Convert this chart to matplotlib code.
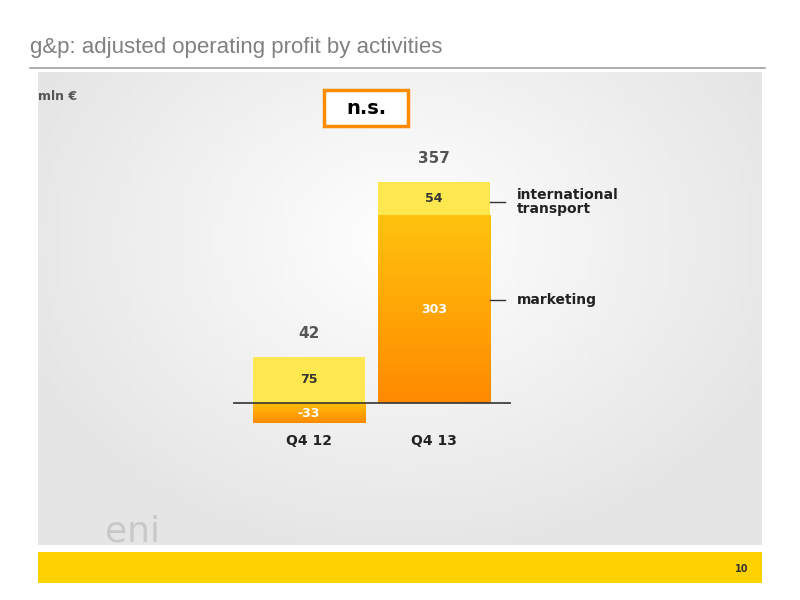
import matplotlib
matplotlib.use("Agg")
import matplotlib.pyplot as plt
import numpy as np
from matplotlib.patches import Rectangle, FancyBboxPatch

categories = ["Q4 12", "Q4 13"]
marketing = [-33, 303]
international = [75, 54]
totals = [42, 357]
series_labels = ["international\ntransport", "marketing"]

fig = plt.figure(figsize=(8, 6), dpi=100)
bg = fig.add_axes([0, 0, 1, 1]); bg.set_xlim(0, 800); bg.set_ylim(600, 0); bg.axis("off")
yy, xx = np.mgrid[0:100, 0:100]
g = np.clip(1 - 0.09*np.sqrt(((xx-50)/50)**2 + ((yy-35)/60)**2), 0.90, 1)
bg.imshow(np.dstack([g, g, g]), extent=[38, 762, 545, 72], aspect="auto", zorder=0)
bg.text(30, 48, "g&p: adjusted operating profit by activities", fontsize=16, color="#808080",
        va="center", family="Liberation Sans")
bg.plot([30, 765], [68, 68], color="#a0a0a0", lw=1.2)
bg.text(38, 97, "mln €", fontsize=9, color="#555555", fontweight="bold", va="center")
bg.add_patch(FancyBboxPatch((324, 90), 84, 36, boxstyle="square,pad=0", fc="white", ec="#FF8C00", lw=2.5, zorder=3))
bg.text(366, 108, "n.s.", fontsize=14, fontweight="bold", ha="center", va="center", zorder=4)
bg.add_patch(Rectangle((38, 552), 724, 31, fc="#FFD200", ec="none"))
bg.text(748, 569, "10", fontsize=7, ha="right", va="center", fontweight="bold", color="#333")
bg.text(105, 548, "eni", fontsize=26, color="#c8c8c8", va="bottom", ha="left")

ax = fig.add_axes([233/800, 1-427.8/600, 278/800, (427.8-174)/600])
ax.set_xlim(-0.608, 1.616); ax.set_ylim(-40, 370); ax.axis("off")
x = np.arange(len(categories)); w = 0.9
grad = np.linspace(0, 1, 100)[:, None]
cm = matplotlib.colors.LinearSegmentedColormap.from_list("o", ["#FF8A00", "#FFC20E"])
for i in x:
    m = marketing[i]
    lo, hi = min(0, m), max(0, m)
    ax.imshow(grad, cmap=cm, extent=[i-w/2, i+w/2, lo, hi], origin="lower", aspect="auto", zorder=1)
    base = max(0, m)
    ax.bar(i, international[i], w, bottom=base, color="#FFE84F", zorder=2)
    ax.text(i, m/2, str(m), ha="center", va="center", color="white", fontsize=9, fontweight="bold", zorder=3)
    ax.text(i, base+international[i]/2, str(international[i]), ha="center", va="center", color="#333", fontsize=9, fontweight="bold", zorder=3)
    ax.text(i, base+international[i]+38, str(totals[i]), ha="center", va="center", color="#555", fontsize=11, fontweight="bold")
    ax.text(i, -62, categories[i], ha="center", va="center", fontsize=10, fontweight="bold", color="#222")
ax.axhline(0, color="#333", lw=1.2, zorder=4)
ax.set_ylim(-40, 370)
ax.set_xlim(-0.608, 1.616)
ax.plot([1+w/2, 1.57], [325]*2, color="#333", lw=1, clip_on=False)
ax.plot([1+w/2, 1.57], [166]*2, color="#333", lw=1, clip_on=False)
ax.text(1.66, 325, series_labels[0], fontsize=10, fontweight="bold", va="center", color="#222", linespacing=0.95)
ax.text(1.66, 166, series_labels[1], fontsize=10, fontweight="bold", va="center", color="#222")
fig.savefig("out.png", dpi=100)
